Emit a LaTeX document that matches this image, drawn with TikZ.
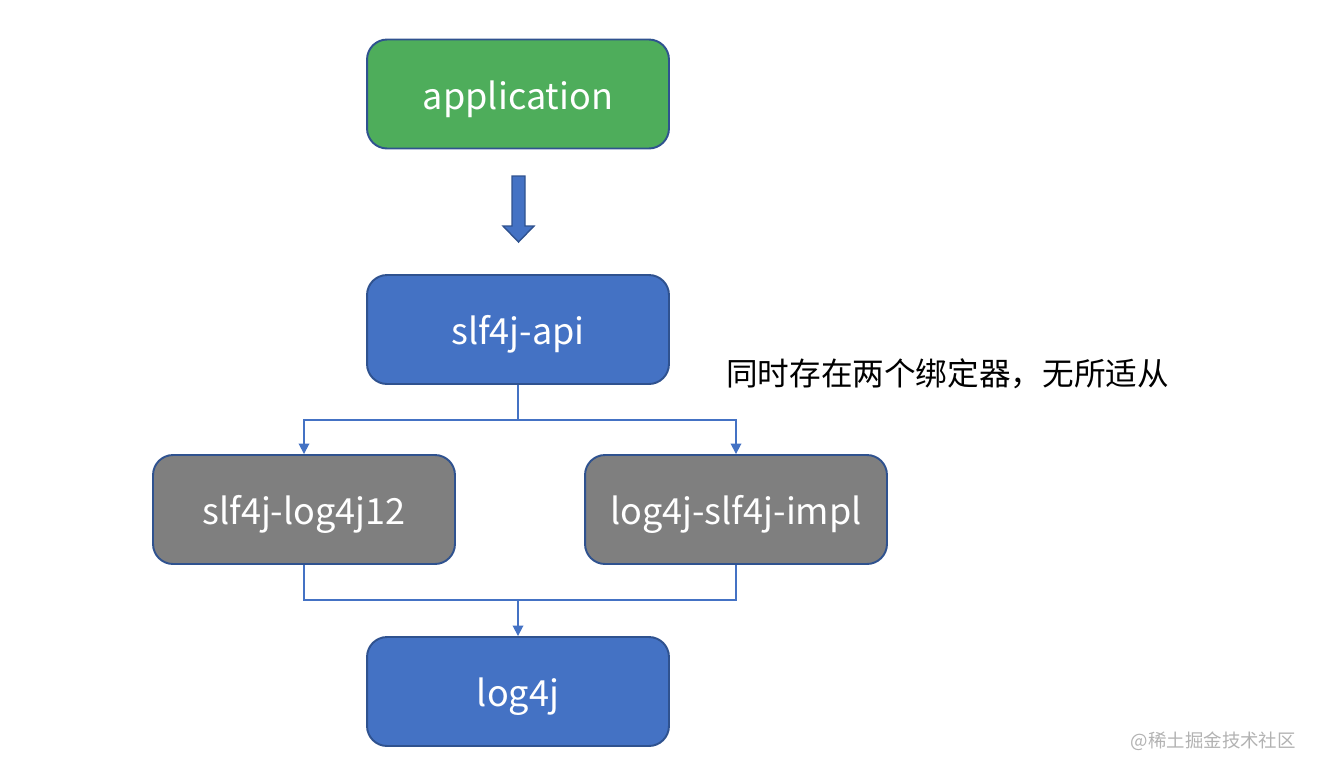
\documentclass[tikz,border=0pt]{standalone}
\usepackage{fontspec}
\setmainfont{Noto Sans CJK SC}
\usetikzlibrary{arrows.meta}

\definecolor{appgreen}{HTML}{4EAD5B}
\definecolor{apiblue}{HTML}{4472C4}
\definecolor{edgeblue}{HTML}{2F528F}
\definecolor{bindgray}{HTML}{7F7F7F}

\begin{document}
\begin{tikzpicture}[x=0.02cm, y=-0.02cm,
  box/.style={draw=edgeblue, line width=1.1pt, rounded corners=0.4cm, minimum width=6.04cm, minimum height=2.18cm, text=white, text height=1.95em, text depth=0.2em, font=\fontsize{20.5}{24}\selectfont},
  link/.style={draw=apiblue, line width=1pt},
  tip/.style={-{Triangle[width=6pt,length=6pt]}}]
\useasboundingbox (0,0) rectangle (1322,772);
\node[box, fill=appgreen] (app) at (518,94) {application};
\node[box, fill=apiblue] (api) at (518,329.5) {slf4j-api};
\node[box, fill=bindgray] (log4j12) at (304,509.5) {slf4j-log4j12};
\node[box, fill=bindgray] (impl) at (736,509.5) {log4j-slf4j-impl};
\node[box, fill=apiblue] (log4j) at (518,691.5) {log4j};
% block arrow
\draw[fill=apiblue, draw=edgeblue, line width=0.8pt] (512,176) -- (525,176) -- (525,226) -- (534,226) -- (518.5,242) -- (503,226) -- (512,226) -- cycle;
% fork
\coordinate (split) at (518,420);
\coordinate (join) at (518,600);
\draw[link] (api.south) -- (split);
\draw[link, tip] (split) -| (log4j12.north);
\draw[link, tip] (split) -| (impl.north);
\draw[link] (log4j12.south) |- (join) -| (impl.south);
\draw[link, tip] (join) -- (log4j.north);
\node[anchor=west, font=\fontsize{18}{22}\selectfont] (note) at (720,374) {同时存在两个绑定器，无所适从};
\node[anchor=east, text=black!30, font=\fontsize{10.5}{12}\selectfont] (mark) at (1302,741) {@稀土掘金技术社区};
\end{tikzpicture}
\end{document}
